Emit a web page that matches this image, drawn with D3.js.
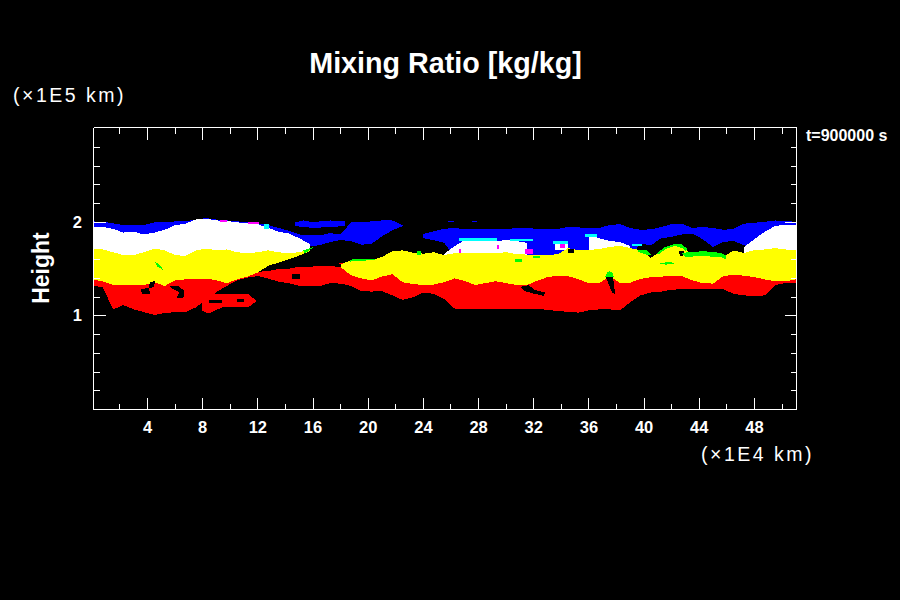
<!DOCTYPE html>
<html>
<head>
<meta charset="utf-8">
<script src="https://cdn.jsdelivr.net/npm/d3@7"></script>
<style>
  html, body { margin: 0; background: #000; }
  text { fill: #fff; font-family: "Liberation Sans", sans-serif; }
  .bold { font-weight: bold; }
  .unit { font-size: 19.5px; letter-spacing: 2.5px; }
</style>
</head>
<body>
<svg width="900" height="600"></svg>
<script>
// horizontal stations, in 1E4 km
const stations = [
  0, 0.75, 1.5, 2.25, 3, 3.75, 4.5, 5.25, 6, 6.75,
  7.5, 8.25, 9, 9.75, 10.5, 11.25, 12, 12.75, 13.5, 14.25,
  15, 15.75, 16.5, 17.25, 18, 18.75, 19.5, 20.25, 21, 21.75,
  22.5, 23.25, 24, 24.75, 25.5, 26.25, 27, 27.75, 28.5, 29.25,
  30, 30.75, 31.5, 32.25, 33, 33.75, 34.5, 35.25, 36, 36.75,
  37.5, 38.25, 39, 39.75, 40.5, 41.25, 42, 42.75, 43.5, 44.25,
  45, 45.75, 46.5, 47.25, 48, 48.75, 49.5, 50.25, 51
];

// band edges, height in 1E5 km, null where the band is absent
const blueTop = [
  2.01, 2.005, 1.99, 1.97, 1.97, 1.97, 2.0, 2.0, 2.01, 2.01,
  2.03, 2.045, 2.03, 2.02, 2.01, 2.0, 1.99, 1.97, 1.94, 1.91,
  1.87, 1.86, 1.86, 1.885, 1.87, 2.0, 2.0, 2.01, 2.02, 2.02,
  1.97, null, 1.875, 1.905, 1.93, 1.94, 1.925, 1.93, 1.93, 1.93,
  1.925, 1.94, 1.94, 1.93, 1.93, 1.93, 1.95, 1.945, 1.94, 1.94,
  1.97, 1.98, 1.94, 1.92, 1.925, 1.95, 1.98, 1.985, 1.94, 1.95,
  1.94, 1.92, 1.93, 1.985, 1.995, 2.005, 2.02, 2.015, 2.005
];
const blueBottom = [
  1.75, 1.75, 1.75, 1.75, 1.75, 1.75, 1.75, 1.75, 1.75, 1.75,
  1.75, 1.75, 1.75, 1.75, 1.75, 1.75, 1.75, 1.75, 1.75, 1.75,
  1.75, 1.745, 1.755, 1.79, 1.81, 1.8, 1.76, 1.77, 1.85, 1.915,
  1.96, null, 1.83, 1.81, 1.78, 1.64, 1.64, 1.64, 1.64, 1.64,
  1.64, 1.64, 1.64, 1.64, 1.64, 1.64, 1.64, 1.64, 1.64, 1.64,
  1.64, 1.64, 1.64, 1.77, 1.755, 1.83, 1.845, 1.87, 1.88, 1.82,
  1.735, 1.79, 1.8, 1.755, 1.7, 1.7, 1.7, 1.7, 1.7
];
const whiteTop = [
  1.95, 1.95, 1.93, 1.89, 1.9, 1.87, 1.89, 1.92, 1.97, 1.985,
  2.03, 2.04, 2.02, 2.015, 2.0, 1.99, 1.98, 1.94, 1.9, 1.88,
  1.83, 1.77, null, null, null, null, null, null, null, null,
  null, null, null, null, 1.66, 1.745, 1.81, 1.8, 1.81, 1.8,
  1.81, 1.8, 1.78, null, null, null, null, null, 1.865, 1.83,
  1.8, 1.79, 1.745, null, null, null, null, null, null, null,
  null, null, null, 1.735, 1.82, 1.9, 1.96, 1.975, 1.975
];
const yellowTop = [
  1.71, 1.71, 1.68, 1.65, 1.65, 1.68, 1.72, 1.7, 1.65, 1.64,
  1.7, 1.72, 1.7, 1.71, 1.68, 1.67, 1.68, 1.7, 1.68, 1.67,
  1.68, 1.71, null, null, 1.55, 1.595, 1.595, 1.595, 1.63, 1.69,
  1.7, 1.675, 1.665, 1.68, 1.65, 1.67, 1.67, 1.67, 1.67, 1.67,
  1.68, 1.66, 1.655, 1.65, 1.65, 1.66, 1.725, 1.7, 1.705, 1.715,
  1.735, 1.75, 1.725, 1.7, 1.62, 1.7, 1.755, 1.75, 1.65, 1.66,
  1.655, 1.63, 1.7, 1.67, 1.705, 1.71, 1.725, 1.71, 1.7
];
const yellowBottom = [
  1.39, 1.37, 1.33, 1.33, 1.33, 1.33, 1.36, 1.32, 1.38, 1.39,
  1.39, 1.4, 1.38, 1.35, 1.39, 1.42, 1.465, 1.535, 1.57, 1.605,
  1.645, 1.69, null, null, 1.52, 1.435, 1.4, 1.38, 1.42, 1.445,
  1.36, 1.34, 1.33, 1.335, 1.36, 1.4, 1.375, 1.33, 1.35, 1.37,
  1.35, 1.33, 1.33, 1.375, 1.415, 1.43, 1.425, 1.39, 1.35, 1.35,
  1.425, 1.35, 1.355, 1.395, 1.415, 1.42, 1.425, 1.425, 1.38, 1.35,
  1.345, 1.425, 1.44, 1.43, 1.415, 1.39, 1.37, 1.37, 1.39
];
const redTop = [
  1.41, 1.39, 1.35, 1.35, 1.35, 1.35, 1.38, 1.34, 1.4, 1.41,
  1.41, 1.42, 1.4, 1.37, 1.41, 1.44, 1.47, 1.48, 1.5, 1.505,
  1.525, 1.525, 1.535, 1.53, 1.525, 1.46, 1.42, 1.4, 1.44, 1.465,
  1.38, 1.36, 1.35, 1.355, 1.38, 1.42, 1.395, 1.35, 1.37, 1.39,
  1.37, 1.35, 1.35, 1.395, 1.435, 1.45, 1.445, 1.41, 1.37, 1.37,
  1.445, 1.37, 1.375, 1.415, 1.435, 1.44, 1.445, 1.445, 1.4, 1.37,
  1.365, 1.445, 1.46, 1.45, 1.435, 1.41, 1.39, 1.39, 1.41
];
const redBottom = [
  1.32, 1.31, 1.07, 1.115, 1.07, 1.04, 1.01, 1.03, 1.04, 1.04,
  1.09, 1.17, 1.255, 1.32, 1.38, 1.41, 1.425, 1.4, 1.365, 1.35,
  1.32, 1.32, 1.32, 1.35, 1.345, 1.32, 1.265, 1.26, 1.265, 1.22,
  1.17, 1.2, 1.25, 1.235, 1.18, 1.08, 1.07, 1.07, 1.07, 1.07,
  1.07, 1.07, 1.07, 1.075, 1.065, 1.05, 1.045, 1.035, 1.06, 1.07,
  1.07, 1.06, 1.145, 1.22, 1.25, 1.26, 1.28, 1.285, 1.285, 1.29,
  1.285, 1.285, 1.235, 1.22, 1.21, 1.22, 1.33, 1.35, 1.35
];

// detached blobs and holes, as [x, height] outlines
const bluePatches = [
  [[14.71, 2.0], [15.29, 2.02], [16.01, 2.0], [16.53, 2.01], [17.25, 2.02], [18.33, 2.01],
   [18.33, 1.96], [17.25, 1.95], [16.01, 1.94], [15.29, 1.95], [14.71, 1.96]],
  [[25.82, 2.016], [26.19, 2.016], [26.19, 1.998], [25.82, 1.998]],
  [[27.51, 2.016], [27.88, 2.016], [27.88, 1.998], [27.51, 1.998]]
];
const whitePatches = [
  [[33.55, 1.763], [34.52, 1.763], [34.52, 1.702], [33.55, 1.702]]
];
const redPatches = [
  [[7.94, 1.22], [8.91, 1.23], [11.32, 1.23], [11.93, 1.157], [11.32, 1.096], [9.39, 1.09], [8.42, 1.026], [7.94, 1.06]],
  [[40.56, 1.595], [41.41, 1.595], [41.41, 1.578], [40.56, 1.578]],
  [[44.19, 1.649], [45.28, 1.649], [45.28, 1.638], [44.19, 1.638]],
  [[17.85, 1.56], [18.57, 1.56], [18.57, 1.55], [17.85, 1.55]]
];
const greenPatches = [
  [[4.56, 1.577], [4.92, 1.542], [5.16, 1.488], [4.68, 1.531]],
  [[15.3, 1.7], [16.1, 1.74], [15.4, 1.665]],
  [[18.69, 1.6], [19.5, 1.613], [20.51, 1.613], [20.51, 1.595], [19.5, 1.59], [18.69, 1.58]],
  [[23.53, 1.692], [23.84, 1.692], [23.84, 1.656], [23.53, 1.656]],
  [[31.98, 1.638], [32.47, 1.638], [32.47, 1.62], [31.98, 1.62]],
  [[30.66, 1.613], [31.14, 1.613], [31.14, 1.578], [30.66, 1.578]],
  [[37.18, 1.417], [37.3, 1.46], [37.5, 1.478], [37.72, 1.46], [37.79, 1.417]],
  [[40.93, 1.667], [41.41, 1.727], [42.14, 1.766], [42.74, 1.763], [43.1, 1.72], [43.05, 1.684],
   [42.86, 1.72], [42.26, 1.749], [41.53, 1.713], [41.05, 1.656]],
  [[42.74, 1.674], [44.31, 1.692], [45.52, 1.674], [45.93, 1.649], [45.93, 1.603], [45.52, 1.631], [44.07, 1.638], [42.98, 1.631]],
  [[39.53, 1.709], [40.2, 1.702], [40.49, 1.656], [40.15, 1.656], [39.6, 1.684]],
  [[41.17, 1.56], [41.9, 1.58], [42.26, 1.55], [41.5, 1.549]]
];
const cyanPatches = [
  [[26.55, 1.834], [29.33, 1.834], [29.33, 1.802], [26.55, 1.802]],
  [[30.29, 1.82], [31.98, 1.82], [31.98, 1.798], [30.29, 1.798]],
  [[33.43, 1.805], [34.52, 1.805], [34.52, 1.763], [33.43, 1.763]],
  [[35.73, 1.87], [36.58, 1.87], [36.58, 1.845], [35.73, 1.845]],
  [[39.12, 1.763], [39.84, 1.763], [39.84, 1.745], [39.12, 1.745]],
  [[12.41, 1.98], [12.78, 1.98], [12.78, 1.933], [12.41, 1.933]]
];
const magentaPatches = [
  [[11.28, 2.005], [12.05, 2.005], [12.05, 1.983], [11.28, 1.983]],
  [[9.27, 2.022], [9.75, 2.022], [9.75, 2.005], [9.27, 2.005]],
  [[31.38, 1.72], [31.98, 1.72], [31.98, 1.66], [31.38, 1.66]],
  [[29.33, 1.756], [29.5, 1.756], [29.5, 1.72], [29.33, 1.72]],
  [[26.55, 1.72], [26.74, 1.72], [26.74, 1.667], [26.55, 1.667]],
  [[33.92, 1.773], [34.28, 1.773], [34.28, 1.727], [33.92, 1.727]]
];
const blackPatches = [
  [[4.2, 1.364], [4.56, 1.371], [4.44, 1.31], [4.08, 1.292], [4.2, 1.239], [3.59, 1.232], [3.54, 1.282], [4.08, 1.303]],
  [[5.57, 1.317], [6.25, 1.317], [6.69, 1.267], [6.61, 1.196], [6.13, 1.196], [6.3, 1.257], [5.89, 1.282]],
  [[8.43, 1.168], [9.39, 1.168], [9.39, 1.139], [8.43, 1.139]],
  [[10.48, 1.178], [11.03, 1.178], [11.03, 1.15], [10.48, 1.15]],
  [[14.47, 1.445], [15.07, 1.445], [15.07, 1.399], [14.47, 1.399]],
  [[37.23, 1.417], [37.74, 1.417], [37.91, 1.229], [37.67, 1.25]],
  [[31.02, 1.311], [31.62, 1.328], [32.1, 1.275], [32.83, 1.25], [32.71, 1.214], [31.98, 1.239], [31.38, 1.264]],
  [[42.5, 1.692], [42.86, 1.692], [42.98, 1.649], [42.62, 1.642]],
  [[34.52, 1.72], [34.89, 1.72], [34.89, 1.674], [34.52, 1.674]]
];

const xMajor = [4, 8, 12, 16, 20, 24, 28, 32, 36, 40, 44, 48];
const xMinor = [2, 6, 10, 14, 18, 22, 26, 30, 34, 38, 42, 46, 50];
const yMajor = [1, 2];
const yMinor = [0.2, 0.4, 0.6, 0.8, 1.2, 1.4, 1.6, 1.8, 2.2, 2.4, 2.6, 2.8];

const BLUE = "#0000ff", WHITE = "#ffffff", YELLOW = "#ffff00", RED = "#ff0000";
const GREEN = "#00ff00", CYAN = "#00ffff", MAGENTA = "#ff00ff", BLACK = "#000000";

const svg = d3.select("svg");
const plotLeft = 93.5, plotRight = 796.5, plotTop = 127.5, plotBottom = 409.5;

const x = d3.scaleLinear().domain([0.085, 51.05]).range([plotLeft, plotRight]);
const y = d3.scaleLinear().domain([0, 3.013]).range([plotBottom, plotTop]);

svg.append("rect").attr("width", 900).attr("height", 600).attr("fill", BLACK);
svg.append("clipPath").attr("id", "plot")
  .append("rect")
  .attr("x", plotLeft).attr("y", plotTop)
  .attr("width", plotRight - plotLeft).attr("height", plotBottom - plotTop);

const field = svg.append("g")
  .attr("clip-path", "url(#plot)")
  .attr("shape-rendering", "crispEdges");

function drawBand(upper, lower, color) {
  const area = d3.area()
    .defined((_, i) => upper[i] !== null && lower[i] !== null)
    .x(d => x(d))
    .y0((_, i) => y(lower[i]))
    .y1((_, i) => y(upper[i]));
  field.append("path").attr("d", area(stations)).attr("fill", color);
}

function drawPatches(patches, color) {
  const outline = d3.line().x(d => x(d[0])).y(d => y(d[1]));
  field.selectAll(null)
    .data(patches)
    .join("path")
    .attr("d", d => outline(d) + "Z")
    .attr("fill", color);
}

drawBand(blueTop, blueBottom, BLUE);
drawPatches(bluePatches, BLUE);
drawBand(whiteTop, yellowTop, WHITE);
drawPatches(whitePatches, WHITE);
drawBand(redTop, redBottom, RED);
drawPatches(redPatches, RED);
drawBand(yellowTop, yellowBottom, YELLOW);
drawPatches(blackPatches, BLACK);
drawPatches(greenPatches, GREEN);
drawPatches(cyanPatches, CYAN);
drawPatches(magentaPatches, MAGENTA);

// the frame and all the ticks point inwards
function drawAxis(axis, scale, values, size, translate, labelled) {
  const g = svg.append("g")
    .attr("transform", translate)
    .attr("shape-rendering", "crispEdges")
    .call(axis(scale).offset(0).tickValues(values).tickSize(-size).tickSizeOuter(0).tickPadding(11.5)
      .tickFormat(labelled ? d3.format("d") : ""));
  g.selectAll("line, path").attr("stroke", "#fff").attr("stroke-width", 1);
  g.selectAll("text")
    .attr("class", "bold")
    .attr("font-size", 16.5);
  return g;
}

drawAxis(d3.axisBottom, x, xMinor, 6, `translate(0,${plotBottom})`, false);
drawAxis(d3.axisBottom, x, xMajor, 12, `translate(0,${plotBottom})`, true);
drawAxis(d3.axisTop, x, xMinor, 6, `translate(0,${plotTop})`, false);
drawAxis(d3.axisTop, x, xMajor, 12, `translate(0,${plotTop})`, false);
drawAxis(d3.axisLeft, y, yMinor, 6, `translate(${plotLeft},0)`, false);
drawAxis(d3.axisLeft, y, yMajor, 12, `translate(${plotLeft},0)`, true);
drawAxis(d3.axisRight, y, yMinor, 6, `translate(${plotRight},0)`, false);
drawAxis(d3.axisRight, y, yMajor, 12, `translate(${plotRight},0)`, false);

svg.append("text")
  .attr("class", "bold")
  .attr("x", 445.5).attr("y", 73)
  .attr("text-anchor", "middle")
  .attr("font-size", 28.7)
  .text("Mixing Ratio [kg/kg]");

svg.append("text")
  .attr("class", "bold")
  .attr("transform", "translate(49,268) rotate(-90)")
  .attr("text-anchor", "middle")
  .attr("font-size", 23)
  .text("Height");

svg.append("text")
  .attr("class", "bold")
  .attr("x", 806).attr("y", 140.7)
  .attr("font-size", 16)
  .text("t=900000 s");

svg.append("text").attr("class", "unit").attr("x", 13).attr("y", 101.5).text("(×1E5 km)");
svg.append("text").attr("class", "unit").attr("x", 701).attr("y", 461).text("(×1E4 km)");
</script>
</body>
</html>
